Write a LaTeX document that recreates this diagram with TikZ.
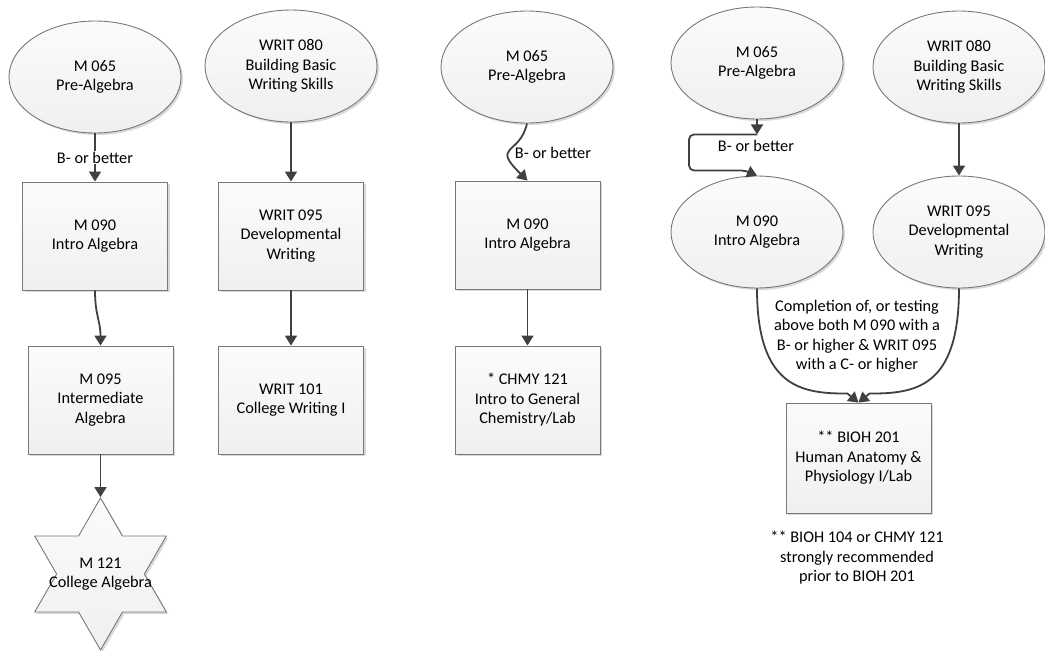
\documentclass[tikz,border=0pt]{standalone}
\usepackage{fontspec}
\setmainfont{Carlito}
\usepackage{tikz}
\usetikzlibrary{arrows.meta, shapes.geometric, shadows, calc}
\definecolor{edgegray}{RGB}{120,120,120}
\definecolor{linkgray}{RGB}{64,64,64}

\begin{document}
\begin{tikzpicture}[x=1pt, y=-1pt, font=\fontsize{16.3}{19.5}\selectfont,
    base/.style={draw=edgegray, line width=0.9pt, top color=gray!3, bottom color=gray!12, align=center, inner sep=2pt,
      drop shadow={shadow xshift=2pt, shadow yshift=-2pt, opacity=0.3}},
    b/.style={base, rectangle, minimum width=145pt, minimum height=108pt},
    e/.style={base, ellipse, minimum width=172pt, minimum height=112pt},
    arr/.style={-{Triangle[length=10pt, width=12pt]}, line width=1.8pt, draw=linkgray, fill=none}]
    \useasboundingbox (0,0) rectangle (1045,651);
    % math track
    \node[e] (m65a) at (95,77) {M 065\\Pre-Algebra};
    \node[b] (m90a) at (95,236) {M 090\\Intro Algebra};
    \node[b] (m95a) at (100.5,400) {M 095\\Intermediate\\Algebra};
    \node[base, star, star points=6, star point ratio=1.732, minimum size=152pt,
      label={[align=center]center:{M 121\\College Algebra}}] (m121) at (100.5,574) {};
    % writing track
    \node[e] (w80a) at (291,66) {WRIT 080\\Building Basic\\Writing Skills};
    \node[b] (w95a) at (291,236) {WRIT 095\\Developmental\\Writing};
    \node[b] (w101) at (291,400) {WRIT 101\\College Writing I};
    % chemistry
    \node[e] (m65b) at (527,67) {M 065\\Pre-Algebra};
    \node[b] (m90b) at (527.5,235) {M 090\\Intro Algebra};
    \node[b] (chmy) at (527.5,400) {* CHMY 121\\Intro to General\\Chemistry/Lab};
    \node (lb2) at (553,153) {B- or better};
    % anatomy
    \node[e] (m65c) at (757,63) {M 065\\Pre-Algebra};
    \node[e] (w80b) at (959,67) {WRIT 080\\Building Basic\\Writing Skills};
    \node[e] (m90c) at (757,232) {M 090\\Intro Algebra};
    \node[e] (w95b) at (959,232) {WRIT 095\\Developmental\\Writing};
    \node[b, minimum height=110pt] (bioh) at (858.5,458) {** BIOH 201\\Human Anatomy \&\\Physiology I/Lab};
    \node[align=center] (cond) at (857,336) {Completion of, or testing\\above both M 090 with a\\B- or higher \& WRIT 095\\with a C- or higher};
    \node[align=center] (note) at (857,558) {** BIOH 104 or CHMY 121\\strongly recommended\\prior to BIOH 201};
    \node (lb3) at (756,146) {B- or better};

    \draw[arr] (m65a.south) -- node[fill=white, inner sep=1pt] (lb1) {B- or better} (m90a.north);
    \draw[arr] (m90a.south) .. controls +(0,25) and +(0,-25) .. (m95a.north);
    \draw[arr] (m95a) -- (m121.north);
    \draw[arr] (w80a) -- (w95a);
    \draw[arr] (w95a) -- (w101);
    \draw[arr] (m65b.south) .. controls +(-7,32) and +(-37,-36) .. (m90b.north);
    \draw[arr] (m90b) -- (chmy);
    \draw[arr] (m65c.south) -- ++(0,15) coordinate (t4);
    \draw[arr, rounded corners=5pt] (t4) -- ++(-68,0) -- ++(0,36) -- ++(56,0) -- (m90c.north);
    \draw[arr] (w80b) -- (w95b);
    \draw[arr] (m90c.south) .. controls +(0,100) and +(-45,0) .. ($(bioh.north)+(-11,-9)$) -- (bioh.north);
    \draw[arr] (w95b.south) .. controls +(0,100) and +(45,0) .. ($(bioh.north)+(11,-9)$) -- (bioh.north);
\end{tikzpicture}
\end{document}
